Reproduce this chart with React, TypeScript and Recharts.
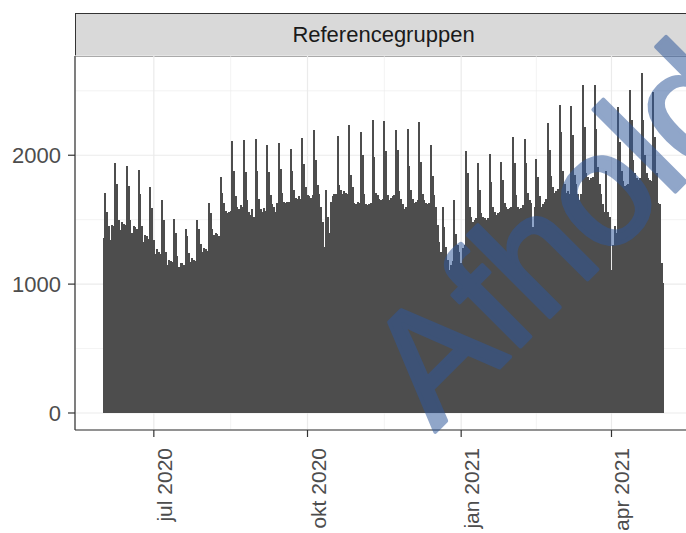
import React from 'react';
import { BarChart, Bar, XAxis, YAxis, CartesianGrid } from 'recharts';

// daily counts, one array per month (Mon 1 Jun 2020 .. Sun 2 May 2021)
const jun2020 = [
  1360, 1705, 1560, 1450, 1340, 1460, 1450,
  1940, 1780, 1500, 1420, 1480, 1470, 1460,
  1915, 1760, 1500, 1400, 1450, 1440, 1430,
  1884, 1700, 1450, 1330, 1380, 1370, 1350,
  1754, 1590,
];
const jul2020 = [
  1340, 1230, 1270, 1250, 1230,
  1656, 1500, 1250, 1150, 1190, 1180, 1170,
  1509, 1400, 1220, 1130, 1160, 1160, 1150,
  1424, 1370, 1240, 1170, 1200, 1190, 1180,
  1501, 1430, 1310, 1250, 1280,
];
const aug2020 = [
  1270, 1260,
  1630, 1550, 1430, 1380, 1400, 1390, 1370,
  1832, 1705, 1630, 1565, 1550, 1560, 1570,
  2108, 1880, 1680, 1600, 1580, 1610, 1600,
  2121, 1870, 1650, 1560, 1540, 1580, 1520,
  2126,
];
const sep2020 = [
  1880, 1660, 1580, 1560, 1590, 1570,
  2080, 1870, 1690, 1620, 1600, 1560, 1630,
  2096, 1890, 1710, 1640, 1630, 1640, 1640,
  2052, 1880, 1730, 1670, 1660, 1680, 1660,
  2134, 1930, 1750,
];
const okt2020 = [
  1690, 1680, 1670, 1690,
  2194, 1960, 1770, 1700, 1600, 1480, 1290,
  1729, 1520, 1400, 1640, 1680, 1700, 1700,
  2147, 1770, 1730, 1700, 1720, 1710, 1700,
  2233, 1850, 1750, 1630, 1620, 1640,
];
const nov2020 = [
  1630,
  2181, 2000, 1700, 1620, 1610, 1620, 1630,
  2271, 1990, 1710, 1690, 1660, 1650, 1660,
  2263, 2030, 1690, 1650, 1670, 1680, 1690,
  2194, 2040, 1720, 1660, 1620, 1580, 1600,
  2202,
];
const dec2020 = [
  1920, 1730, 1660, 1630, 1640, 1650,
  2258, 1950, 1700, 1650, 1630, 1620, 1630,
  2078, 1840, 1690, 1600, 1460, 1330, 1250,
  1599, 1440, 1290, 1190, 1110, 1150, 1180,
  1656, 1390, 1300, 1250,
];
const jan2021 = [
  1160, 1280, 1300,
  2034, 1860, 1600, 1520, 1480, 1500, 1510,
  1940, 1730, 1550, 1520, 1510, 1500, 1510,
  2013, 1790, 1600, 1560, 1540, 1550, 1560,
  1946, 1810, 1630, 1600, 1580, 1590, 1600,
];
const feb2021 = [
  2142, 1940, 1690, 1600, 1580, 1590, 1610,
  2124, 1940, 1710, 1650, 1630, 1440, 1600,
  1974, 1830, 1680, 1600, 1620, 1640, 1660,
  2250, 2040, 1840, 1750, 1710, 1720, 1740,
];
const mar2021 = [
  2393, 2180, 1880, 1780, 1710, 1720, 1700,
  2382, 2160, 1850, 1780, 1700, 1650, 1700,
  2543, 2220, 1860, 1830, 1810, 1820, 1830,
  2545, 2200, 1910, 1780, 1700, 1620, 1560,
  1874, 1560, 1520,
];
const apr2021 = [
  1110, 1300, 1450, 1400,
  2374, 2100, 1880, 1800, 1760, 1770, 1780,
  2504, 2270, 1960, 1860, 1820, 1810, 1820,
  2638, 2270, 2000, 1860, 1820, 1810, 1800,
  2491, 2140, 1860, 1630, 1620,
];
const may2021 = [1160, 1010];

const months = [jun2020, jul2020, aug2020, sep2020, okt2020, nov2020, dec2020,
  jan2021, feb2021, mar2021, apr2021, may2021];

// day index 0 = 1 Jun 2020
const data = months.flat().map((n, day) => ({ day, n }));

const monthStart = (i: number) => months.slice(0, i).reduce((s, m) => s + m.length, 0);
const xTickDays = [monthStart(1), monthStart(4), monthStart(7), monthStart(10)];
const xTickLabels = ['jul 2020', 'okt 2020', 'jan 2021', 'apr 2021'];
const xMinorDays = [monthStart(2) + 15, monthStart(5) + 15, monthStart(8) + 14];
const yTicks = [0, 1000, 2000];
const yMinor = [500, 1500, 2500];

const xDomain = [-17.2, 352.2];
const yDomain = [-132, 2770];

const FONT = '"Liberation Sans", Arial, Helvetica, sans-serif';
const BAR = '#4D4D4D';

const XTick = ({ x, y, payload }: any) => {
  const label = xTickLabels[xTickDays.indexOf(payload.value)];
  return (
    <text transform={`translate(${x + 18},${y + 9}) rotate(-90)`} textAnchor="end"
      fontSize={21} fill="#4D4D4D" fontFamily={FONT}>{label}</text>
  );
};

const YTick = ({ x, y, payload }: any) => (
  <text x={x} y={y + 8} textAnchor="end" fontSize={22} fill="#4D4D4D" fontFamily={FONT}>
    {payload.value}
  </text>
);

// bars drawn 2px wide around the day centre, crisp, so neighbouring days join up
const DayBar = (props: any) => {
  const { x, y, width, height } = props;
  if (!height || height <= 0) return null;
  const cx = x + width / 2;
  return <rect x={cx - 1} y={y} width={2} height={height} fill={BAR} shapeRendering="crispEdges" />;
};

export default function App() {
  return (
    <div style={{ position: 'absolute', left: 0, top: 0, width: 686, height: 533, overflow: 'hidden', background: '#fff' }}>
      <div
        style={{
          position: 'absolute', left: 75, top: 13, width: 617, height: 44, boxSizing: 'border-box',
          background: '#D9D9D9', border: '1px solid #333333', fontFamily: FONT, fontSize: 22,
          color: '#1A1A1A', textAlign: 'center', lineHeight: '42px',
        }}
      >
        Referencegruppen
      </div>
      <div style={{ position: 'absolute', left: 0, top: 0 }}>
        <BarChart width={720} height={533} data={data} barSize={1.67}
          margin={{ top: 56, right: 28, bottom: 0, left: 0 }}>
          <CartesianGrid stroke="#EBEBEB" strokeWidth={0.6} xAxisId="minor" yAxisId="minor" />
          <CartesianGrid stroke="#EBEBEB" strokeWidth={1.2} />
          <XAxis xAxisId="minor" dataKey="day" type="number" domain={xDomain} allowDataOverflow
            ticks={xMinorDays} interval={0} hide />
          <YAxis yAxisId="minor" type="number" domain={yDomain} allowDataOverflow
            ticks={yMinor} interval={0} hide />
          <XAxis dataKey="day" type="number" domain={xDomain} allowDataOverflow
            ticks={xTickDays} interval={0} height={103} tickSize={7} tickMargin={2}
            axisLine={{ stroke: '#333333', strokeWidth: 1.2 }} tickLine={{ stroke: '#333333', strokeWidth: 1.2 }}
            tick={<XTick />} />
          <YAxis type="number" domain={yDomain} allowDataOverflow ticks={yTicks} interval={0}
            width={75} tickSize={7} tickMargin={7}
            axisLine={{ stroke: '#333333', strokeWidth: 1.2 }} tickLine={{ stroke: '#333333', strokeWidth: 1.2 }}
            tick={<YTick />} />
          <Bar dataKey="n" fill={BAR} shape={<DayBar />} isAnimationActive={false} />
        </BarChart>
      </div>
      <svg width={686} height={533} style={{ position: 'absolute', left: 0, top: 0, pointerEvents: 'none' }}>
        <g opacity={0.53}>
          <text transform="translate(435,432) rotate(-45)" fontSize={160} fontFamily={FONT}
            fill="rgb(47,88,155)" stroke="rgb(47,88,155)" strokeWidth={4} strokeLinejoin="round">Afholdt</text>
        </g>
      </svg>
    </div>
  );
}
